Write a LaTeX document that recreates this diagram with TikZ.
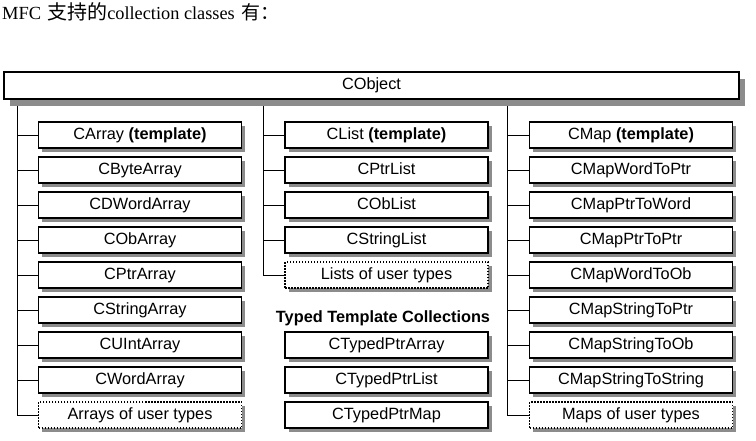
\documentclass[tikz,border=0pt]{standalone}
\usepackage{fontspec}
\setmainfont{Liberation Serif}
\setsansfont{Liberation Sans}
\newfontfamily\cjk{Noto Sans CJK SC}
\usetikzlibrary{shadows}
\tikzset{
  boxfont/.style={font=\sffamily\fontsize{16.3}{18}\selectfont, text height=12pt, text depth=3.5pt},
  box/.style={draw=black, line width=1.3pt, fill=white, minimum width=203pt, minimum height=26pt, inner sep=0pt,
    boxfont,
    drop shadow={shadow xshift=3.5pt, shadow yshift=-3.5pt, fill=black!45, opacity=1}},
  userbox/.style={box, dash pattern=on 1.5pt off 1.5pt, line width=1.6pt},
  topbox/.style={draw=black, line width=1.3pt, fill=white, minimum width=735pt, minimum height=27pt, inner sep=0pt,
    boxfont,
    drop shadow={shadow xshift=6pt, shadow yshift=-7pt, fill=black!45, opacity=1}},
  conn/.style={draw=black, line width=0.9pt}
}
\begin{document}
\begin{tikzpicture}[x=1pt,y=-1pt]
\useasboundingbox (0,0) rectangle (756,440);
\node[anchor=base west, inner sep=0pt] (hdr) at (2,19) {{\fontsize{18.5}{20}\selectfont MFC}\hspace*{6pt}{\cjk\fontsize{20}{20}\selectfont 支持的}{\fontsize{18.3}{20}\selectfont collection classes}\hspace*{7pt}{\cjk\fontsize{19}{20}\selectfont 有：}};
\coordinate (t1) at (17,99);
\coordinate (t2) at (263,99);
\coordinate (t3) at (507,99);
\coordinate (e1) at (17,415);
\coordinate (e2) at (263,275);
\coordinate (e3) at (507,415);
% trunks first (behind)
\draw[conn] (t1) -- (e1);
\draw[conn] (t2) -- (e2);
\draw[conn] (t3) -- (e3);
\node[topbox] (obj) at (371.5,85.5) {CObject};
% column 1
\node[box] (a1) at (140,135) {CArray \textbf{(template)}};
\node[box] (a2) at (140,170) {CByteArray};
\node[box] (a3) at (140,205) {CDWordArray};
\node[box] (a4) at (140,240) {CObArray};
\node[box] (a5) at (140,275) {CPtrArray};
\node[box] (a6) at (140,310) {CStringArray};
\node[box] (a7) at (140,345) {CUIntArray};
\node[box] (a8) at (140,380) {CWordArray};
\node[userbox] (a9) at (140,415) {Arrays of user types};
% column 2
\node[box] (b1) at (386.5,135) {CList \textbf{(template)}};
\node[box] (b2) at (386.5,170) {CPtrList};
\node[box] (b3) at (386.5,205) {CObList};
\node[box] (b4) at (386.5,240) {CStringList};
\node[userbox] (b5) at (386.5,275) {Lists of user types};
\node[boxfont, font=\sffamily\bfseries\fontsize{16.3}{18}\selectfont, inner sep=0pt] (bt) at (383,318) {Typed Template Collections};
\node[box] (b6) at (386.5,345) {CTypedPtrArray};
\node[box] (b7) at (386.5,380) {CTypedPtrList};
\node[box] (b8) at (386.5,415) {CTypedPtrMap};
% column 3
\node[box] (c1) at (631,135) {CMap \textbf{(template)}};
\node[box] (c2) at (631,170) {CMapWordToPtr};
\node[box] (c3) at (631,205) {CMapPtrToWord};
\node[box] (c4) at (631,240) {CMapPtrToPtr};
\node[box] (c5) at (631,275) {CMapWordToOb};
\node[box] (c6) at (631,310) {CMapStringToPtr};
\node[box] (c7) at (631,345) {CMapStringToOb};
\node[box] (c8) at (631,380) {CMapStringToString};
\node[userbox] (c9) at (631,415) {Maps of user types};
% branches
\foreach \n in {a1,a2,a3,a4,a5,a6,a7,a8,a9} \draw[conn] (\n.west) -- (\n.west -| t1);
\foreach \n in {b1,b2,b3,b4,b5} \draw[conn] (\n.west) -- (\n.west -| t2);
\foreach \n in {c1,c2,c3,c4,c5,c6,c7,c8,c9} \draw[conn] (\n.west) -- (\n.west -| t3);
\end{tikzpicture}
\end{document}
